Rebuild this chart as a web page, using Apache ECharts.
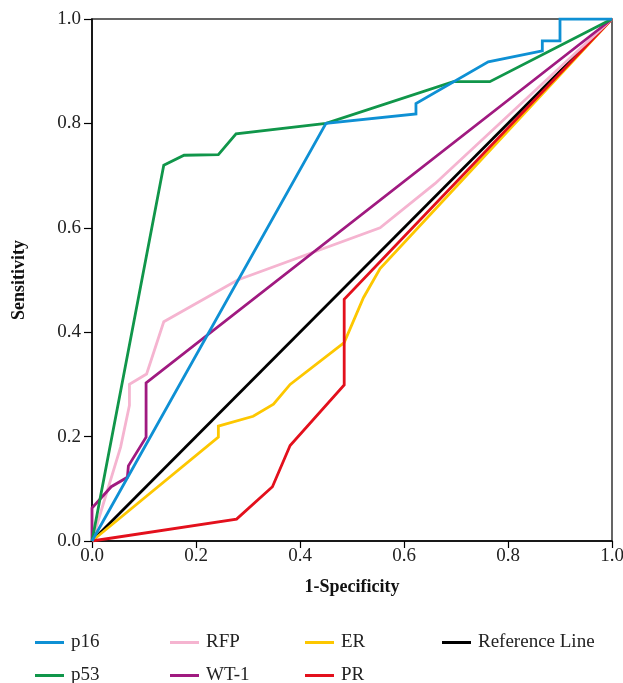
<!DOCTYPE html>
<html><head><meta charset="utf-8">
<script src="https://cdn.jsdelivr.net/npm/echarts@6/dist/echarts.min.js"></script>
<style>html,body{margin:0;padding:0;background:#fff}#c{width:623px;height:683px}</style>
</head><body><div id="c"></div>
<script>
var xTicks = [0, 0.2, 0.4, 0.6, 0.8, 1.0];
var p16X = [0, 0.45, 0.623, 0.623, 0.762, 0.866, 0.866, 0.9, 0.9, 1];
var p16Y = [0, 0.80, 0.818, 0.838, 0.918, 0.939, 0.958, 0.958, 1, 1];
var p53X = [0, 0.138, 0.177, 0.243, 0.277, 0.45, 0.695, 0.765, 1];
var p53Y = [0, 0.72, 0.739, 0.74, 0.78, 0.80, 0.88, 0.88, 1];
var rfpX = [0, 0.055, 0.072, 0.072, 0.105, 0.138, 0.28, 0.554, 0.66, 1];
var rfpY = [0, 0.18, 0.26, 0.30, 0.32, 0.42, 0.50, 0.60, 0.685, 1];
var wt1X = [0, 0, 0.037, 0.068, 0.07, 0.104, 0.104, 1];
var wt1Y = [0, 0.063, 0.104, 0.122, 0.144, 0.199, 0.303, 1];
var erX = [0, 0.243, 0.243, 0.31, 0.349, 0.381, 0.485, 0.522, 0.554, 1];
var erY = [0, 0.199, 0.22, 0.239, 0.262, 0.30, 0.38, 0.466, 0.522, 1];
var prX = [0, 0.278, 0.347, 0.381, 0.485, 0.485, 1];
var prY = [0, 0.042, 0.104, 0.183, 0.299, 0.463, 1];
var refX = [0, 1];
var refY = [0, 1];

function pairs(xs, ys) { return xs.map(function (x, i) { return [x, ys[i]]; }); }

var FONT = '"Liberation Serif", "DejaVu Serif", serif';
var seriesDefs = [
  {name: 'Reference Line', x: refX, y: refY, color: '#000000'},
  {name: 'ER', x: erX, y: erY, color: '#fdc700'},
  {name: 'PR', x: prX, y: prY, color: '#e3101c'},
  {name: 'RFP', x: rfpX, y: rfpY, color: '#f5b4d0'},
  {name: 'WT-1', x: wt1X, y: wt1Y, color: '#a01a80'},
  {name: 'p53', x: p53X, y: p53Y, color: '#10964a'},
  {name: 'p16', x: p16X, y: p16Y, color: '#0e90d4'}
];
var legendPos = [
  {name: 'p16', left: 35, top: 633},
  {name: 'RFP', left: 170, top: 633},
  {name: 'ER', left: 305, top: 633},
  {name: 'Reference Line', left: 442, top: 633},
  {name: 'p53', left: 35, top: 666},
  {name: 'WT-1', left: 170, top: 666},
  {name: 'PR', left: 305, top: 666}
];

var chart = echarts.init(document.getElementById('c'), null, {renderer: 'canvas'});
chart.setOption({
  animation: false,
  backgroundColor: '#ffffff',
  grid: {left: 92, right: 11, top: 19, bottom: 142, show: true, borderColor: '#333', borderWidth: 1.5, containLabel: false, outerBoundsMode: 'none'},
  xAxis: {
    type: 'value', min: 0, max: 1, interval: 0.2,
    name: '1-Specificity', nameLocation: 'middle', nameGap: 37,
    nameTextStyle: {fontFamily: FONT, fontSize: 18, fontWeight: 'bold', color: '#111'},
    axisLine: {show: true, lineStyle: {color: '#000', width: 1.5}},
    axisTick: {show: true, length: 7, lineStyle: {color: '#000', width: 1.2}},
    axisLabel: {fontFamily: FONT, fontSize: 19, color: '#222', margin: 6, hideOverlap: false, formatter: function (v) { return v.toFixed(1); }},
    splitLine: {show: false}
  },
  yAxis: {
    type: 'value', min: 0, max: 1, interval: 0.2,
    name: 'Sensitivity', nameLocation: 'middle', nameGap: 64, nameRotate: 90,
    nameTextStyle: {fontFamily: FONT, fontSize: 18, fontWeight: 'bold', color: '#111'},
    axisLine: {show: true, lineStyle: {color: '#000', width: 1.5}},
    axisTick: {show: true, length: 8, lineStyle: {color: '#000', width: 1.2}},
    axisLabel: {fontFamily: FONT, fontSize: 19, color: '#222', margin: 11, formatter: function (v) { return v.toFixed(1); }},
    splitLine: {show: false}
  },
  legend: legendPos.map(function (l) {
    return {
      data: [l.name], left: l.left, top: l.top, padding: 0, itemGap: 0,
      icon: 'rect', itemWidth: 29, itemHeight: 3, selectedMode: false,
      textStyle: {fontFamily: FONT, fontSize: 19, color: '#222', padding: [0, 0, 0, 2]}
    };
  }),
  series: seriesDefs.map(function (s) {
    return {
      name: s.name, type: 'line', data: pairs(s.x, s.y),
      showSymbol: false, symbol: 'none', smooth: false,
      lineStyle: {color: s.color, width: 2.8, join: 'miter'},
      itemStyle: {color: s.color}
    };
  })
});
</script></body></html>
